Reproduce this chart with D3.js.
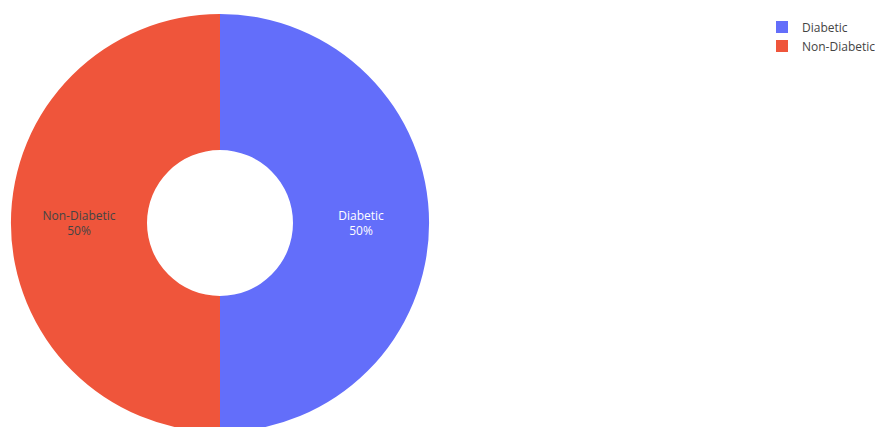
<!DOCTYPE html>
<html>
<head>
<meta charset="utf-8">
<script src="https://cdn.jsdelivr.net/npm/d3@7"></script>
<style>
  html, body { margin: 0; padding: 0; background: #fff; }
  svg { display: block; font-family: "Open Sans", "Noto Sans", sans-serif; }
</style>
</head>
<body>
<svg id="chart" width="875" height="427"></svg>
<script>
// Patient groups and their counts
const categories = ["Diabetic", "Non-Diabetic"];
const values = [50, 50];
const colors = ["#636efa", "#EF553B"];
const labelColors = ["#ffffff", "#444444"];

const svg = d3.select("#chart");
const cx = 220, cy = 223;
const outerR = 209, innerR = 73;

const color = d3.scaleOrdinal().domain(categories).range(colors);
const textColor = d3.scaleOrdinal().domain(categories).range(labelColors);

const data = categories.map((c, i) => ({ label: c, value: values[i] }));
const total = d3.sum(values);

const pie = d3.pie().value(d => d.value).sort(null);
const arc = d3.arc().innerRadius(innerR).outerRadius(outerR);

const g = svg.append("g").attr("transform", `translate(${cx},${cy})`);
const arcs = pie(data);

g.selectAll("path.slice")
  .data(arcs)
  .join("path")
  .attr("class", "slice")
  .attr("d", arc)
  .attr("fill", d => color(d.data.label));

// Inside labels: name and percentage
const labels = g.selectAll("text.lbl")
  .data(arcs)
  .join("text")
  .attr("class", "lbl")
  .attr("transform", d => `translate(${arc.centroid(d)})`)
  .attr("text-anchor", "middle")
  .attr("font-size", 12)
  .attr("fill", d => textColor(d.data.label));

labels.append("tspan")
  .attr("x", 0).attr("y", -3.5)
  .text(d => d.data.label);
labels.append("tspan")
  .attr("x", 0).attr("y", 12)
  .text(d => d3.format(".0%")(d.data.value / total));

// Legend
const legend = svg.append("g").attr("transform", "translate(776,27)");
const items = legend.selectAll("g")
  .data(categories)
  .join("g")
  .attr("transform", (d, i) => `translate(0,${i * 19})`);
items.append("rect")
  .attr("x", 0).attr("y", -6)
  .attr("width", 12).attr("height", 12)
  .attr("fill", d => color(d));
items.append("text")
  .attr("x", 26).attr("y", 4.5)
  .attr("font-size", 12)
  .attr("fill", "#444")
  .text(d => d);
</script>
</body>
</html>
